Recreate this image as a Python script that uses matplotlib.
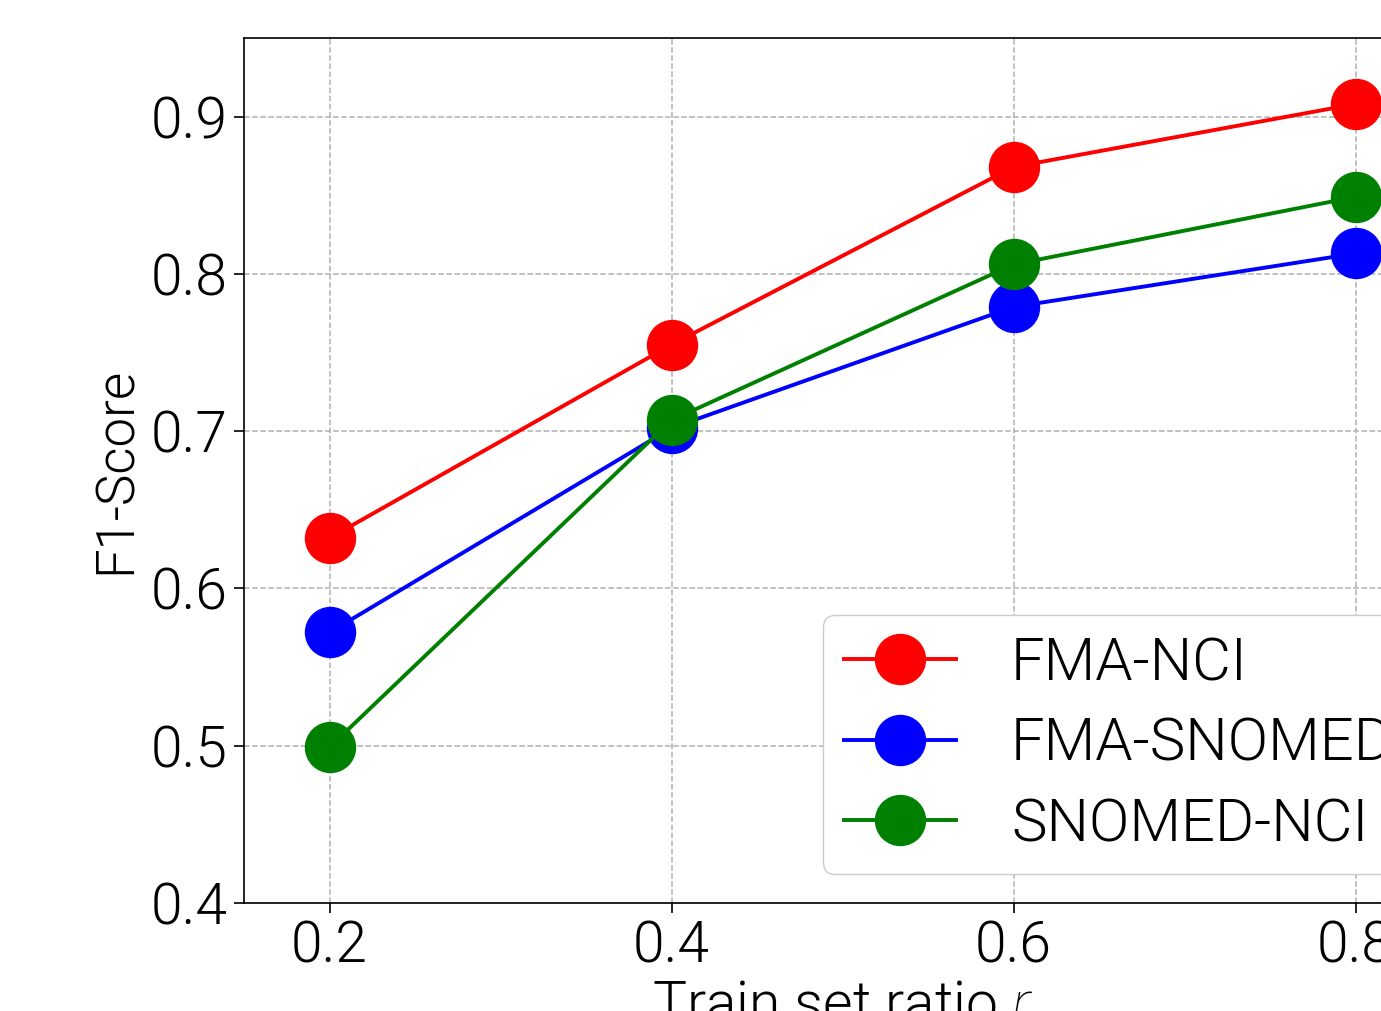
import matplotlib
matplotlib.use("Agg")
import matplotlib.pyplot as plt

# data
ratios = [0.2, 0.4, 0.6, 0.8]
fma_nci = [0.632, 0.755, 0.868, 0.908]
fma_snomed = [0.572, 0.702, 0.779, 0.813]
snomed_nci = [0.499, 0.707, 0.806, 0.849]
series_names = ["FMA-NCI", "FMA-SNOMED", "SNOMED-NCI"]
series_colors = ["red", "blue", "green"]

FONT = "Roboto"
plt.rcParams["font.family"] = [FONT, "DejaVu Sans"]
plt.rcParams["font.weight"] = 300
plt.rcParams["axes.labelweight"] = 300
plt.rcParams["mathtext.fontset"] = "custom"
plt.rcParams["mathtext.it"] = FONT + ":italic:light"
plt.rcParams["mathtext.rm"] = FONT + ":light"

W, H = 1381, 1011
fig = plt.figure(figsize=(W / 100, H / 100), dpi=100)
# axes runs past the right edge of the figure, like the reference
ax = fig.add_axes([244 / W, (H - 903) / H, (1441 - 244) / W, (903 - 38) / H])

for vals, name, col in zip([fma_nci, fma_snomed, snomed_nci], series_names, series_colors):
    ax.plot(ratios, vals, "-o", color=col, lw=2.8, markersize=36, label=name)

ax.set_xlim(0.15, 0.85)
ax.set_ylim(0.4, 0.95)
ax.set_xticks(ratios)
ax.set_yticks([0.4, 0.5, 0.6, 0.7, 0.8, 0.9])
ax.tick_params(labelsize=41, length=7, width=1.2, pad=5)
ax.grid(True, linestyle="--", color="#b0b0b0", lw=1.1)
for s in ax.spines.values():
    s.set_linewidth(1.2)

ax.set_xlabel("Train set ratio $r$", fontsize=41, labelpad=3)
ax.set_ylabel("F1-Score", fontsize=38, labelpad=6)

leg = ax.legend(loc="lower left", bbox_to_anchor=(823 / W, (H - 874) / H),
                bbox_transform=fig.transFigure, borderaxespad=0,
                fontsize=43, handlelength=1.87, handletextpad=0.93,
                labelspacing=0.4, borderpad=0.35,
                framealpha=1.0, edgecolor="#cccccc")

plt.savefig("out.png", dpi=100)
